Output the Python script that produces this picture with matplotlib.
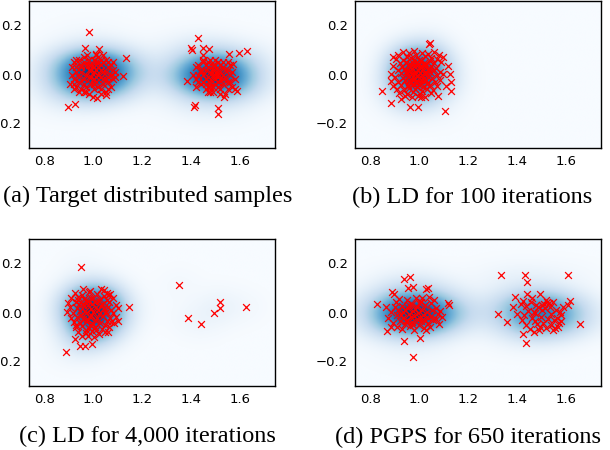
import numpy as np
import matplotlib
matplotlib.use("Agg")
import matplotlib.pyplot as plt

# sample positions (x, y)
a_pts = [
    # left mode
    (0.981, 0.172), (0.963, 0.109), (1.024, 0.103), (1.011, 0.085), (0.974, 0.081),
    (1.133, 0.069), (1.120, -0.007), (0.895, -0.131), (0.922, -0.121), (0.997, -0.091),
    (1.015, -0.094), (1.052, -0.084), (0.902, -0.039),
    (0.92, 0.05), (0.94, 0.06), (0.95, 0.03), (0.93, 0.01), (0.91, 0.00), (0.92, -0.02),
    (0.94, -0.03), (0.93, -0.05), (0.95, -0.06), (0.96, -0.07), (0.97, 0.04), (0.98, 0.06),
    (0.99, 0.02), (0.97, 0.00), (0.98, -0.01), (0.96, -0.02), (0.99, -0.04), (0.97, -0.05),
    (1.00, -0.06), (0.98, -0.08), (1.01, 0.05), (1.02, 0.07), (1.03, 0.04), (1.01, 0.02),
    (1.02, 0.00), (1.00, 0.01), (1.03, -0.01), (1.01, -0.03), (1.02, -0.05), (1.04, -0.04),
    (1.05, 0.06), (1.06, 0.03), (1.04, 0.01), (1.05, -0.02), (1.06, -0.03), (1.07, 0.00),
    (1.08, 0.02), (1.07, -0.05), (1.05, -0.07), (1.03, -0.08), (0.95, 0.01), (0.96, 0.05),
    (0.99, 0.04), (1.00, 0.03), (1.04, 0.05), (1.06, 0.05), (1.08, 0.05), (1.09, 0.01),
    (1.08, -0.02), (1.06, -0.06), (0.93, 0.03), (0.94, -0.01), (0.96, -0.04), (0.98, 0.02),
    (1.00, -0.02), (1.02, 0.03), (1.03, 0.02), (1.04, -0.02), (0.99, -0.01), (1.01, -0.01),
    (0.92, -0.04), (0.94, -0.07), (0.97, -0.07), (1.00, -0.04), (1.03, -0.06), (1.07, 0.04),
    (0.95, 0.04), (0.98, 0.04), (1.02, 0.05), (1.05, 0.01), (0.93, 0.06), (1.00, 0.06),
    (1.03, 0.06), (0.96, 0.07), (1.01, 0.08), (1.04, 0.08), (0.91, 0.03), (0.92, -0.06),
    (1.09, -0.01), (1.06, -0.01),
    # right mode
    (1.429, 0.150), (1.399, 0.110), (1.405, 0.102), (1.450, 0.109), (1.473, 0.103),
    (1.450, 0.081), (1.555, 0.085), (1.599, 0.088), (1.631, 0.096), (1.573, 0.041),
    (1.385, -0.025), (1.416, -0.125), (1.412, -0.131), (1.510, -0.138), (1.510, -0.160),
    (1.535, -0.090), (1.582, -0.059), (1.589, -0.066),
    (1.42, 0.03), (1.43, 0.00), (1.42, -0.02), (1.44, -0.04), (1.45, 0.05), (1.46, 0.02),
    (1.45, 0.00), (1.46, -0.02), (1.47, -0.05), (1.46, -0.06), (1.48, 0.06), (1.49, 0.04),
    (1.48, 0.01), (1.49, -0.01), (1.48, -0.03), (1.50, -0.04), (1.49, -0.07), (1.51, 0.05),
    (1.50, 0.02), (1.51, 0.00), (1.52, -0.02), (1.51, -0.05), (1.53, 0.03), (1.52, 0.01),
    (1.54, -0.01), (1.53, -0.04), (1.55, -0.06), (1.54, -0.08), (1.55, 0.02), (1.56, 0.00),
    (1.56, -0.03), (1.57, -0.05), (1.47, 0.03), (1.47, -0.01), (1.50, 0.00), (1.50, -0.02),
    (1.52, 0.04), (1.53, -0.02), (1.44, 0.02), (1.43, -0.03), (1.45, -0.03), (1.49, 0.02),
    (1.51, 0.02), (1.52, -0.06), (1.48, -0.05), (1.46, 0.04), (1.54, 0.02), (1.56, 0.04),
    (1.41, 0.00), (1.44, 0.01), (1.47, 0.05), (1.50, 0.06), (1.53, 0.05), (1.55, -0.03),
    (1.57, 0.01), (1.46, -0.04), (1.49, -0.05), (1.51, -0.03), (1.53, 0.00), (1.48, -0.07),
    (1.50, 0.04), (1.45, 0.06), (1.58, -0.02), (1.43, 0.04), (1.55, 0.05), (1.42, -0.05),
    (1.52, -0.08), (1.47, -0.07), (1.49, 0.00), (1.51, -0.01),
]

b_pts = [
    (1.041, 0.129), (1.037, 0.124), (0.890, 0.071), (0.845, -0.068), (0.884, -0.118),
    (0.925, -0.100), (0.959, -0.134), (0.993, -0.134), (1.103, -0.148), (1.075, -0.086),
    (1.116, 0.034), (1.126, 0.003), (1.130, -0.032), (1.130, -0.066), (1.110, -0.045),
    (1.096, 0.071), (1.007, -0.093),
    (0.931, 0.091), (0.958, 0.087), (0.979, 0.094), (1.012, 0.089), (1.034, 0.083), (1.061, 0.092),
    (0.912, 0.078), (0.948, 0.072), (0.987, 0.081), (1.021, 0.076), (1.049, 0.069), (1.078, 0.081),
    (0.903, 0.064), (0.934, 0.058), (0.966, 0.066), (0.998, 0.061), (1.041, 0.057), (1.072, 0.064),
    (0.921, 0.047), (0.944, 0.052), (0.962, 0.041), (0.991, 0.049), (1.008, 0.054), (1.027, 0.044),
    (1.058, 0.048), (1.088, 0.052), (0.892, 0.036), (0.928, 0.031), (0.952, 0.038), (0.978, 0.033),
    (1.001, 0.029), (1.019, 0.037), (1.047, 0.034), (1.069, 0.028), (0.913, 0.019), (0.939, 0.022),
    (0.957, 0.014), (0.971, 0.024), (0.993, 0.017), (1.013, 0.021), (1.038, 0.013), (1.061, 0.019),
    (1.082, 0.011), (0.884, 0.004), (0.922, 0.008), (0.947, 0.002), (0.963, 0.009), (0.982, 0.001),
    (1.002, 0.006), (1.024, 0.003), (1.044, 0.009), (1.071, -0.002), (1.097, 0.004), (0.901, -0.012),
    (0.931, -0.016), (0.952, -0.009), (0.976, -0.014), (0.994, -0.007), (1.016, -0.018), (1.033, -0.011),
    (1.052, -0.015), (0.881, -0.027), (0.912, -0.031), (0.941, -0.024), (0.963, -0.033), (0.987, -0.026),
    (1.005, -0.034), (1.028, -0.022), (1.063, -0.029), (1.084, -0.021), (0.893, -0.045), (0.924, -0.041),
    (0.951, -0.048), (0.972, -0.039), (0.996, -0.044), (1.014, -0.051), (1.041, -0.043), (1.072, -0.047),
    (0.907, -0.059), (0.936, -0.063), (0.958, -0.056), (0.983, -0.061), (1.009, -0.066), (1.031, -0.058),
    (1.056, -0.064), (0.917, -0.074), (0.948, -0.078), (0.974, -0.072), (1.003, -0.081), (1.047, -0.076),
    (0.939, -0.089), (0.967, -0.093), (0.992, -0.087), (1.022, -0.091), (0.968, 0.003), (0.985, 0.012),
    (1.011, -0.004), (0.975, -0.021), (0.998, 0.028), (1.021, 0.012), (0.958, -0.028), (0.989, -0.052),
    (1.018, 0.045), (0.944, 0.011), (0.979, 0.058), (1.004, -0.022), (0.961, 0.031), (1.029, -0.037),
    (0.953, -0.041), (0.995, 0.039), (1.037, 0.024), (0.973, 0.046), (0.984, -0.035), (1.012, 0.034),
]

c_pts = [
    (0.950, 0.185), (0.986, 0.088), (1.031, 0.096), (1.054, 0.081), (0.990, 0.061),
    (0.886, -0.163), (0.943, -0.135), (0.963, -0.135), (0.995, -0.128), (0.922, -0.107),
    (1.147, 0.023), (1.099, -0.036), (1.058, -0.080),
    (1.351, 0.113), (1.389, -0.021), (1.442, -0.048), (1.495, 0.000), (1.518, 0.018),
    (1.521, 0.044), (1.626, 0.023),
    (0.922, 0.078), (0.951, 0.071), (0.983, 0.083), (1.014, 0.074), (1.043, 0.069), (1.066, 0.077),
    (0.907, 0.058), (0.938, 0.063), (0.969, 0.052), (0.997, 0.061), (1.028, 0.055), (1.057, 0.049),
    (1.081, 0.058), (0.896, 0.039), (0.926, 0.044), (0.955, 0.036), (0.979, 0.047), (1.006, 0.041),
    (1.033, 0.034), (1.062, 0.043), (1.092, 0.031), (0.903, 0.021), (0.934, 0.017), (0.962, 0.025),
    (0.988, 0.014), (1.011, 0.022), (1.042, 0.018), (1.071, 0.012), (1.101, 0.019), (0.891, 0.002),
    (0.917, -0.004), (0.945, 0.006), (0.971, -0.002), (0.999, 0.004), (1.023, -0.006), (1.051, 0.003),
    (1.079, -0.003), (0.906, -0.021), (0.933, -0.017), (0.958, -0.026), (0.984, -0.019), (1.013, -0.024),
    (1.039, -0.015), (1.067, -0.022), (1.094, -0.018), (0.918, -0.039), (0.946, -0.043), (0.973, -0.036),
    (0.998, -0.047), (1.027, -0.041), (1.054, -0.034), (1.083, -0.044), (0.927, -0.061), (0.953, -0.057),
    (0.981, -0.064), (1.008, -0.058), (1.036, -0.066), (1.063, -0.061), (0.938, -0.079), (0.967, -0.083),
    (0.992, -0.077), (1.021, -0.086), (1.049, -0.079), (0.951, -0.097), (0.979, -0.094), (1.003, -0.101),
    (0.963, 0.008), (0.991, -0.011), (1.018, 0.009), (0.976, 0.029), (1.004, -0.032), (0.948, -0.009),
    (1.031, 0.027), (0.987, -0.051), (1.045, -0.052), (0.959, 0.056), (1.021, 0.047), (0.969, -0.071),
    (1.058, 0.021), (0.941, 0.033), (0.994, 0.036), (1.012, -0.071), (0.975, -0.028), (1.046, -0.002),
    (0.929, -0.051), (1.072, -0.038), (0.955, 0.094), (1.041, 0.093), (1.058, 0.071), (0.935, 0.049),
]

d_pts = [
    # left mode
    (0.938, 0.137), (0.959, 0.144), (0.952, 0.099), (0.973, 0.103), (0.886, 0.082),
    (0.894, 0.075), (1.027, 0.096), (1.034, 0.100), (0.826, 0.034), (1.116, 0.038),
    (1.119, 0.031), (0.867, -0.075), (0.936, -0.116), (0.973, -0.182), (1.000, -0.103),
    (1.078, -0.048),
    (0.862, 0.021), (0.884, 0.004), (0.871, -0.023), (0.893, -0.041), (0.881, -0.061),
    (0.903, 0.041), (0.912, 0.012), (0.907, -0.012), (0.918, -0.033), (0.909, -0.058),
    (0.927, 0.028), (0.934, 0.003), (0.931, -0.021), (0.939, -0.047), (0.928, -0.068),
    (0.948, 0.052), (0.952, 0.017), (0.957, -0.007), (0.949, -0.029), (0.961, -0.055),
    (0.968, 0.036), (0.972, 0.008), (0.976, -0.016), (0.969, -0.038), (0.978, -0.071),
    (0.986, 0.061), (0.991, 0.024), (0.994, -0.003), (0.988, -0.027), (0.997, -0.049),
    (1.006, 0.043), (1.011, 0.012), (1.014, -0.011), (1.008, -0.036), (1.017, -0.062),
    (1.024, 0.029), (1.031, 0.004), (1.029, -0.019), (1.036, -0.044), (1.027, -0.072),
    (1.046, 0.037), (1.052, 0.009), (1.049, -0.013), (1.055, -0.031), (1.043, -0.058),
    (1.067, 0.018), (1.074, -0.008), (1.069, -0.027), (1.083, 0.006), (1.091, -0.019),
    (0.941, 0.011), (0.963, -0.018), (0.983, 0.014), (1.003, -0.021), (0.922, -0.009),
    (0.958, 0.032), (0.996, 0.038), (1.021, -0.033), (0.974, -0.052), (0.944, -0.036),
    (0.899, 0.023), (1.061, 0.051), (1.038, 0.062), (0.917, 0.055), (1.012, 0.058),
    # right mode
    (1.336, 0.153), (1.434, 0.155), (1.442, 0.123), (1.610, 0.153), (1.322, -0.007),
    (1.359, -0.038), (1.438, -0.123), (1.425, -0.089), (1.616, 0.045), (1.610, 0.030),
    (1.660, -0.045), (1.568, -0.059),
    (1.392, 0.064), (1.441, 0.075), (1.495, 0.075), (1.383, 0.021), (1.402, -0.008),
    (1.418, 0.033), (1.421, -0.031), (1.436, 0.027), (1.439, -0.052), (1.447, 0.008),
    (1.452, -0.069), (1.458, 0.041), (1.462, -0.021), (1.468, -0.078), (1.471, 0.002),
    (1.476, -0.001), (1.479, 0.029), (1.483, -0.048), (1.488, 0.024), (1.491, -0.072),
    (1.497, -0.018), (1.502, 0.031), (1.507, -0.041), (1.511, 0.036), (1.516, 0.019),
    (1.521, -0.062), (1.524, 0.042), (1.529, -0.028), (1.533, 0.038), (1.538, -0.008),
    (1.541, -0.049), (1.547, 0.044), (1.552, -0.031), (1.556, -0.064), (1.561, 0.012),
    (1.566, -0.021), (1.571, -0.042), (1.577, 0.004), (1.582, -0.012), (1.588, 0.021),
    (1.461, 0.058), (1.429, -0.011), (1.493, -0.061), (1.518, 0.053), (1.546, -0.071),
    (1.472, -0.035), (1.503, 0.009), (1.537, 0.021), (1.424, 0.046), (1.581, -0.035),
]

captions = ["(a) Target distributed samples", "(b) LD for 100 iterations",
            "(c) LD for 4,000 iterations", "(d) PGPS for 650 iterations"]

xlim = (0.735, 1.745)
ylim = (-0.3, 0.3)
xticks = [0.8, 1.0, 1.2, 1.4, 1.6]
yticks = [-0.2, 0.0, 0.2]

# kde bandwidth (x, y) per panel, tuned by eye
bandwidths = [(0.11, 0.046), (0.06, 0.055), (0.065, 0.052), (0.11, 0.046)]


def kde_grid(pts, gx, gy, hx, hy):
    data = np.asarray(pts)
    X, Y = np.meshgrid(gx, gy)
    dens = np.zeros_like(X)
    for px, py in data:
        dens += np.exp(-0.5 * (((X - px) / hx) ** 2 + ((Y - py) / hy) ** 2))
    return dens


fig = plt.figure(figsize=(6.1, 4.5), dpi=100)
W, H = 610, 450
boxes = [(29, 1), (355, 1), (29, 239), (355, 239)]
cap_pos = [(148, 196), (472, 197), (147, 436), (468, 437)]

gx = np.linspace(xlim[0], xlim[1], 300)
gy = np.linspace(ylim[0], ylim[1], 180)

for i, pts in enumerate([a_pts, b_pts, c_pts, d_pts]):
    left, top = boxes[i]
    ax = fig.add_axes([left / W, 1 - (top + 147) / H, 246 / W, 147 / H])
    dens = kde_grid(pts, gx, gy, *bandwidths[i])
    ax.imshow(dens, origin="lower", extent=(xlim[0], xlim[1], ylim[0], ylim[1]),
              cmap="Blues", aspect="auto", vmin=0, vmax=dens.max() * 1.05,
              interpolation="bilinear")
    p = np.asarray(pts)
    ax.scatter(p[:, 0], p[:, 1], marker="x", color="red", s=24, linewidths=0.9)
    ax.set_xlim(xlim)
    ax.set_ylim(ylim)
    ax.set_xticks(xticks)
    ax.set_yticks(yticks)
    ax.set_xticklabels([f"{v:.1f}" for v in xticks])
    ax.set_yticklabels([f"{v:.1f}".replace("-", "\u2212") if v != 0 else "0.0" for v in yticks])
    ax.tick_params(length=0, labelsize=9.5, pad=5)
    for s in ax.spines.values():
        s.set_linewidth(1.0)
        s.set_color("black")
    cx, cy = cap_pos[i]
    fig.text(cx / W, 1 - cy / H, captions[i], ha="center", va="center",
             family="Liberation Serif", fontsize=17.5)

fig.savefig("out.png", dpi=100)
